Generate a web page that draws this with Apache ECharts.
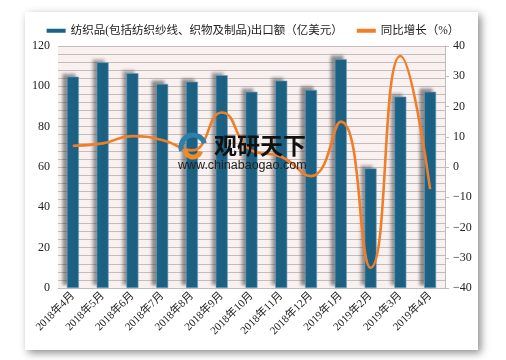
<!DOCTYPE html>
<html><head><meta charset="utf-8">
<script src="https://cdn.jsdelivr.net/npm/echarts@6/dist/echarts.min.js"></script>
<style>html,body{margin:0;padding:0;background:#fff}#c{width:506px;height:360px}</style>
</head><body><div id="c"></div>
<script>
const categories = ['2018年4月','2018年5月','2018年6月','2018年7月','2018年8月','2018年9月','2018年10月','2018年11月','2018年12月','2019年1月','2019年2月','2019年3月','2019年4月'];
const exportValues = [104.8, 111.9, 106.5, 101.2, 102.3, 105.5, 97.3, 102.8, 98.2, 113.5, 59.3, 94.9, 97.3];
const yoyGrowth = [7.0, 7.8, 10.2, 8.9, 5.5, 18.0, 5.5, 3.4, -3.0, 15.0, -33.3, 36.7, -7.3];
const leftTicks = {min: 0, max: 120, interval: 20};
const rightTicks = {min: -40, max: 40, interval: 10};
const seriesNames = ['纺织品(包括纺织纱线、织物及制品)出口额（亿美元）', '同比增长（%）'];

const serif = "'Liberation Serif','DejaVu Serif','Noto Sans CJK SC',serif";
const chart = echarts.init(document.getElementById('c'), null, {renderer: 'canvas'});
chart.setOption({
  animation: false,
  backgroundColor: '#ffffff',
  graphic: [
    {type: 'rect', z: -10, shape: {x: 25, y: 12, width: 453, height: 338},
     style: {fill: '#ffffff', shadowBlur: 8, shadowColor: 'rgba(0,0,0,0.45)', shadowOffsetX: 3, shadowOffsetY: 3}},
    {type: 'arc', z: 100, shape: {cx: 193, cy: 147, r: 12, startAngle: Math.PI * 0.9, endAngle: Math.PI * 1.9},
     style: {stroke: '#2f7fa8', lineWidth: 5, fill: null}},
    {type: 'arc', z: 100, shape: {cx: 193, cy: 149, r: 8, startAngle: Math.PI * 0.1, endAngle: Math.PI * 1.0},
     style: {stroke: '#f08a24', lineWidth: 5, fill: null}},
    {type: 'text', z: 100, left: 214, top: 134,
     style: {text: '观研天下', fill: '#111', font: "bold 23px 'Noto Sans CJK SC'"}},
    {type: 'text', z: 100, left: 178, top: 159,
     style: {text: 'www.chinabaogao.com', fill: '#222', font: "12.5px 'Liberation Sans'"}}
  ],
  legend: {
    top: 20, left: 'center', itemWidth: 19, itemHeight: 4, itemGap: 14,
    itemStyle: {borderWidth: 0, shadowBlur: 0, shadowOffsetX: 0, shadowOffsetY: 0},
    textStyle: {fontFamily: serif, fontSize: 11.5, color: '#222'},
    data: [
      {name: seriesNames[0], icon: 'rect'},
      {name: seriesNames[1], icon: 'rect'}
    ]
  },
  grid: {left: 58, right: 61, top: 46, bottom: 72, show: true, backgroundColor: '#f9f0f0', borderWidth: 0},
  xAxis: {
    type: 'category', data: categories,
    axisLine: {lineStyle: {color: '#bdbdbd', width: 1}},
    axisTick: {show: false},
    axisLabel: {rotate: 45, interval: 0, fontFamily: serif, fontSize: 11, color: '#222', margin: 6}
  },
  yAxis: [
    {type: 'value', min: leftTicks.min, max: leftTicks.max, interval: leftTicks.interval,
     axisLine: {show: false}, axisTick: {show: false},
     axisLabel: {fontFamily: serif, fontSize: 12, color: '#222', margin: 8},
     splitLine: {lineStyle: {color: '#c6bcbc', width: 1}},
     minorTick: {show: false, splitNumber: 5},
     minorSplitLine: {show: true, lineStyle: {color: '#c6bcbc', width: 1}}},
    {type: 'value', min: rightTicks.min, max: rightTicks.max, interval: rightTicks.interval,
     axisLine: {show: true, lineStyle: {color: '#bdbdbd'}},
     axisTick: {show: true, length: 4, lineStyle: {color: '#bdbdbd'}},
     axisLabel: {fontFamily: serif, fontSize: 12, color: '#222', margin: 8,
                 formatter: v => String(v).replace('-', '−')},
     splitLine: {show: false}}
  ],
  series: [
    {name: seriesNames[0], type: 'bar', yAxisIndex: 0, data: exportValues, barWidth: 12,
     itemStyle: {color: '#1b6386', borderColor: '#6fa3bd', borderWidth: 0.6,
                 shadowColor: 'rgba(60,60,60,0.55)', shadowBlur: 3, shadowOffsetX: -4, shadowOffsetY: -3}},
    {name: seriesNames[1], type: 'line', yAxisIndex: 1, data: yoyGrowth, smooth: 0.5,
     showSymbol: false, symbol: 'none', z: 5,
     lineStyle: {color: '#f07e28', width: 2.6}, itemStyle: {color: '#f07e28'}}
  ]
});
</script>
</body></html>
